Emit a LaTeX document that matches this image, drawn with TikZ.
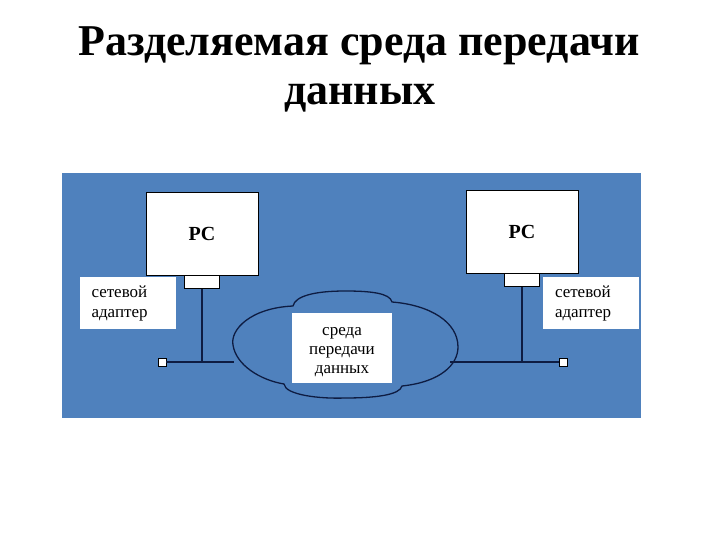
\documentclass[tikz,border=0pt]{standalone}
\usepackage{fontspec}
\setmainfont{Liberation Serif}
\usetikzlibrary{positioning}
\definecolor{slideblue}{RGB}{79,129,189}
\definecolor{wire}{RGB}{14,28,66}

\begin{document}
\begin{tikzpicture}[
  x=1pt, y=-1pt,
  ttl/.style={font=\fontsize{44}{49}\selectfont\bfseries, inner sep=0pt},
  pc/.style={draw=black, fill=white, minimum width=112pt, minimum height=83pt,
             inner sep=0pt, font=\fontsize{20}{22}\selectfont\bfseries},
  nic/.style={draw=black, fill=white, minimum width=35pt, minimum height=13pt,
              inner sep=0pt},
  lbl/.style={fill=white, align=left, text width=72pt, minimum height=52pt,
              inner xsep=12pt, inner ysep=2pt, font=\fontsize{17}{20}\selectfont},
  media/.style={fill=white, align=center, minimum width=100pt, minimum height=70pt,
                inner sep=2pt, font=\fontsize{17}{19}\selectfont},
  term/.style={draw=black, fill=white, minimum size=8pt, inner sep=0pt},
  ln/.style={draw=wire, line width=1.3pt}
]
\useasboundingbox (0,0) rectangle (720,540);

% ---- title ----
\node[ttl, anchor=base] (title) at (359,56) {Разделяемая среда передачи};
\node[ttl, anchor=base] (title2) at (360,105) {данных};

% ---- slide panel ----
\fill[slideblue] (62,173) rectangle (641,418);

% ---- shared medium (cloud) ----
\draw[ln, fill=slideblue] (293,306) .. controls (250,308) and (230,330) .. (233,345)
  .. controls (236,365) and (260,380) .. (284,384)
  .. controls (285,395) and (320,399) .. (345,398)
  .. controls (375,398) and (400,395) .. (402,386)
  .. controls (440,382) and (458,365) .. (458,347)
  .. controls (458,322) and (430,305) .. (392,302)
  .. controls (390,293) and (370,291) .. (345,291)
  .. controls (315,291) and (295,296) .. (293,306) -- cycle;
\fill[white] (292,313) rectangle (392,383);
\node[media, fill=none] (sreda) at (342,352) {среда\\передачи\\данных};
\coordinate (cloudW) at (234,362);
\coordinate (cloudE) at (450,362);

% ---- stations ----
\node[pc] (pcL) at (202,233.5) {PC};
\node[pc] (pcR) at (522,231.5) {PC};
\node[nic, below=0pt of pcL] (nicL) {};
\node[nic, below=0pt of pcR] (nicR) {};
\node[lbl] (adL) at (127.5,303) {сетевой\\адаптер};
\node[lbl] (adR) at (591,303) {сетевой\\адаптер};
\node[term] (termL) at (162,362) {};
\node[term] (termR) at (563,362) {};

% ---- wiring ----
\draw[ln] (nicL.south) -- (nicL.south |- termL);
\draw[ln] (nicR.south) -- (nicR.south |- termR);
\draw[ln] (termL.east) -- (cloudW);
\draw[ln] (cloudE) -- (termR.west);

\end{tikzpicture}
\end{document}
